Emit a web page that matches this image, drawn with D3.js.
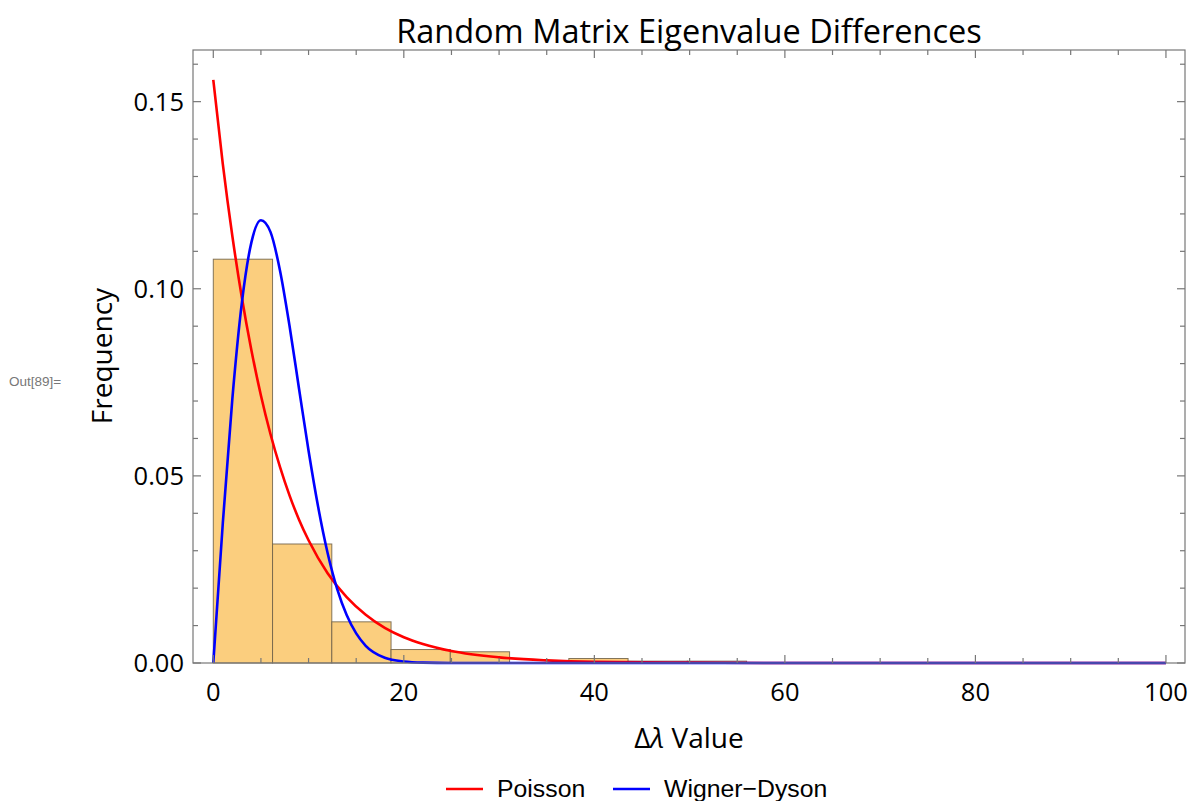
<!DOCTYPE html>
<html lang="en">
<head>
    <meta charset="UTF-8">
    <title>Random Matrix Eigenvalue Differences</title>
    <script src="https://d3js.org/d3.v7.min.js"></script>
    <style>
        body { margin: 0; background: #fff; }
        svg { display: block; }
        .tick-label { font-family: "Open Sans", sans-serif; font-size: 25.5px; fill: #000; }
        .legend-label { font-family: "Liberation Sans", Arial, sans-serif; font-size: 24.8px; fill: #000; }
    </style>
</head>
<body>
    <div id="chart"></div>
    <script>
        const width = 1191;
        const height = 801;

        // histogram bins (edges) and heights
        const binEdges = [0, 6.22, 12.44, 18.66, 24.88, 31.1, 37.32, 43.54, 49.76, 55.98];
        const binHeights = [0.1079, 0.0318, 0.0110, 0.0036, 0.0030, 0, 0.0012, 0.0005, 0.0005];

        // Poisson curve samples
        const poissonX = [0, 1, 2, 3, 4, 5, 6, 7, 8, 9, 10, 12, 14, 16, 18, 20, 22, 25, 30, 35, 40, 50, 60, 80, 100];
        const poissonY = [0.1558, 0.1333, 0.1141, 0.0976, 0.0836, 0.0715, 0.0612, 0.0524, 0.0448, 0.0383, 0.0328,
                          0.0240, 0.0176, 0.0129, 0.0094, 0.0069, 0.0051, 0.0032, 0.0015, 0.0007, 0.0003, 0.0001, 0, 0, 0];

        // Wigner-Dyson curve samples
        const wdX = [0, 1, 2, 3, 4, 5, 6, 7, 8, 9, 10, 11, 12, 13, 14, 15, 16, 18, 20, 22, 25, 30, 40, 60, 80, 100];
        const wdY = [0, 0.0374, 0.0706, 0.0963, 0.1124, 0.1183, 0.1152, 0.1049, 0.0901, 0.0733, 0.0567, 0.0418,
                     0.0294, 0.0198, 0.0128, 0.0079, 0.0046, 0.0014, 0.0004, 0.0001, 0, 0, 0, 0, 0, 0];

        const xTicks = [0, 20, 40, 60, 80, 100];
        const yTicks = [0, 0.05, 0.10, 0.15];

        const plotLeft = 193, plotRight = 1185, plotTop = 50, plotBottom = 663;

        const x = d3.scaleLinear().domain([-2.13, 102]).range([plotLeft, plotRight]);
        const y = d3.scaleLinear().domain([0, 0.1638]).range([plotBottom, plotTop]);

        const svg = d3.select("#chart").append("svg")
            .attr("width", width)
            .attr("height", height);

        // bars
        const bins = binHeights.map((h, i) => ({ x0: binEdges[i], x1: binEdges[i + 1], h: h }))
            .filter(d => d.h > 0);
        svg.append("g").selectAll("rect")
            .data(bins)
            .enter().append("rect")
            .attr("x", d => x(d.x0))
            .attr("y", d => y(d.h))
            .attr("width", d => x(d.x1) - x(d.x0))
            .attr("height", d => y(0) - y(d.h))
            .attr("fill", "#fbce7e")
            .attr("stroke", "#6f6048")
            .attr("stroke-opacity", 0.85)
            .attr("stroke-width", 1);

        // curves
        const line = (xs, ys) => d3.line()
            .x((d, i) => x(xs[i]))
            .y(d => y(d))
            .curve(d3.curveMonotoneX)(ys);

        svg.append("path")
            .attr("d", line(poissonX, poissonY))
            .attr("fill", "none")
            .attr("stroke", "#ff0000")
            .attr("stroke-width", 2.6);

        svg.append("path")
            .attr("d", line(wdX, wdY))
            .attr("fill", "none")
            .attr("stroke", "#0000ff")
            .attr("stroke-width", 2.6);

        // frame
        const frame = svg.append("g").attr("stroke", "#777").attr("stroke-width", 1.2);
        frame.append("rect")
            .attr("x", plotLeft).attr("y", plotTop)
            .attr("width", plotRight - plotLeft).attr("height", plotBottom - plotTop)
            .attr("fill", "none");

        // x ticks (bottom and top), minor every 5
        const xMinor = d3.range(0, 101, 5);
        xMinor.forEach(v => {
            const major = v % 20 === 0;
            const len = major ? 8 : 5;
            frame.append("line").attr("x1", x(v)).attr("x2", x(v)).attr("y1", plotBottom).attr("y2", plotBottom - len);
            frame.append("line").attr("x1", x(v)).attr("x2", x(v)).attr("y1", plotTop).attr("y2", plotTop + len);
        });

        // y ticks (left and right), minor every 0.01
        const yMinor = d3.range(0, 17).map(i => i / 100);
        yMinor.forEach(v => {
            const major = Math.round(v * 100) % 5 === 0;
            const len = major ? 8 : 5;
            frame.append("line").attr("y1", y(v)).attr("y2", y(v)).attr("x1", plotLeft).attr("x2", plotLeft + len);
            frame.append("line").attr("y1", y(v)).attr("y2", y(v)).attr("x1", plotRight).attr("x2", plotRight - len);
        });

        // tick labels
        svg.append("g").selectAll("text")
            .data(xTicks).enter().append("text")
            .attr("class", "tick-label")
            .attr("x", d => x(d))
            .attr("y", 701)
            .attr("text-anchor", "middle")
            .text(d => d);

        svg.append("g").selectAll("text")
            .data(yTicks).enter().append("text")
            .attr("class", "tick-label")
            .attr("x", 184)
            .attr("y", d => y(d) + 9)
            .attr("text-anchor", "end")
            .text(d => d3.format(".2f")(d));

        // titles
        svg.append("text")
            .attr("x", (plotLeft + plotRight) / 2)
            .attr("y", 43)
            .attr("text-anchor", "middle")
            .attr("class", "tick-label")
            .style("font-size", "32.5px")
            .text("Random Matrix Eigenvalue Differences");

        svg.append("text")
            .attr("x", (plotLeft + plotRight) / 2)
            .attr("y", 748)
            .attr("text-anchor", "middle")
            .attr("class", "tick-label")
            .style("font-size", "28px")
            .html('Δ<tspan font-style="italic">λ</tspan> Value');

        svg.append("text")
            .attr("transform", "translate(112,356) rotate(-90)")
            .attr("text-anchor", "middle")
            .attr("class", "tick-label")
            .style("font-size", "28px")
            .text("Frequency");

        svg.append("text")
            .attr("x", 9)
            .attr("y", 386)
            .attr("font-family", "Liberation Sans, Arial, sans-serif")
            .attr("font-size", 13.5)
            .attr("fill", "#777")
            .text("Out[89]=");

        // legend
        const legend = [
            { name: "Poisson", color: "#ff0000", x: 446 },
            { name: "Wigner\u2212Dyson", color: "#0000ff", x: 613 }
        ];
        const lg = svg.append("g").selectAll("g").data(legend).enter().append("g");
        lg.append("line")
            .attr("x1", d => d.x).attr("x2", d => d.x + 37)
            .attr("y1", 789).attr("y2", 789)
            .attr("stroke", d => d.color)
            .attr("stroke-width", 2.6);
        lg.append("text")
            .attr("class", "legend-label")
            .attr("x", d => d.x + 51)
            .attr("y", 797)
            .text(d => d.name);
    </script>
</body>
</html>
